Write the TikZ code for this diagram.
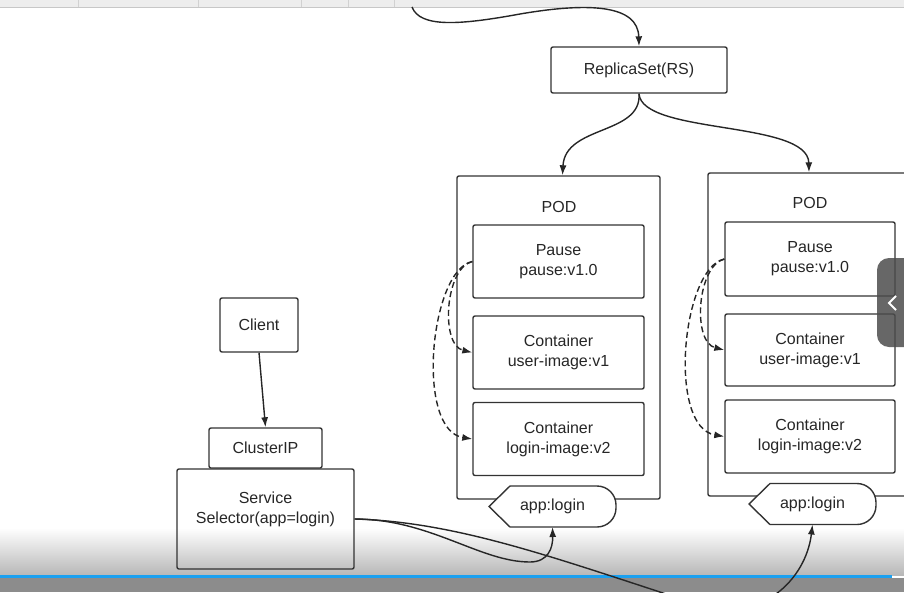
\documentclass[tikz,border=0pt]{standalone}
\usepackage{fontspec}
\setmainfont{Liberation Sans}
\usetikzlibrary{positioning,arrows.meta,calc}
\definecolor{barblue}{HTML}{1AA0F0}
\tikzset{
  applabel/.pic={
    \draw[line width=1.4pt, draw=black!80, fill=white]
      (-63.5,0) -- (-42.5,-20.5) -- (44.5,-20.5)
      .. controls (55,-20.5) and (63.5,-12) .. (63.5,-1.5) -- (63.5,1.5)
      .. controls (63.5,12) and (55,20.5) .. (44.5,20.5) -- (-42.5,20.5) -- cycle;
    \node[txt] (-txt) at (0,0) {app:login};
    \coordinate (-bot) at (0,20.5);
  }
}

\begin{document}
\begin{tikzpicture}[
    x=1pt, y=-1pt,
    font=\fontsize{16}{20}\selectfont,
    box/.style={draw=black!80, rectangle, rounded corners=2pt, line width=1.4pt,
      align=center, inner sep=0pt, text=black!85},
    pod/.style={box, minimum width=203pt, minimum height=323pt},
    ctr/.style={box, minimum width=171pt, minimum height=73pt},
    txt/.style={align=center, inner sep=0pt, text=black!85},
    arrow/.style={-{Latex[length=10pt,width=7pt]}, line width=1.4pt, draw=black!85},
    dasharrow/.style={arrow, dash pattern=on 6pt off 3.5pt}
  ]
  \useasboundingbox (0,0) rectangle (904,592);
  \clip (0,0) rectangle (904,592);

  % player chrome behind the drawing
  \fill[black!7] (0,0) rectangle (904,7);
  \foreach \xx in {78,198,301,348,394} \draw[black!18] (\xx,0) -- (\xx,7);
  \draw[black!22] (0,7) -- (904,7);
  \shade[top color=white, bottom color=black!28] (0,528) rectangle (904,575);
  \fill[black!45] (0,578) rectangle (904,592);
  \fill[barblue] (0,575) rectangle (892,578);

  \coordinate (deploy) at (412,7);
  \node[box, minimum width=176pt, minimum height=46pt] (rs) at (639,70) {ReplicaSet(RS)};

  % left pod
  \node[pod] (podL) at (558.5,337.5) {};
  \node[txt] (podLname) at (559,207) {POD};
  \node[ctr] (pauseL) at (558.5,261.5) {Pause\\pause:v1.0};
  \node[ctr] (userL) at (558.5,352.5) {Container\\user-image:v1};
  \node[ctr] (loginL) at (558.5,439) {Container\\login-image:v2};
  \pic (tagL) at (552.5,506.5) {applabel};

  % right pod
  \node[pod, minimum width=202pt] (podR) at (809,334.5) {};
  \node[txt] (podRname) at (810,203) {POD};
  \node[ctr, minimum width=170pt, minimum height=74pt] (pauseR) at (810,259) {Pause\\pause:v1.0};
  \node[ctr, minimum width=170pt, minimum height=72pt] (userR) at (810,350) {Container\\user-image:v1};
  \node[ctr, minimum width=170pt] (loginR) at (810,436.5) {Container\\login-image:v2};
  \pic (tagR) at (812.5,504) {applabel};

  % service side
  \node[box, minimum width=78pt, minimum height=54pt] (client) at (259,325) {Client};
  \node[box, minimum width=113pt, minimum height=40pt] (cip) at (265.5,448) {ClusterIP};
  \node[box, minimum width=177pt, minimum height=100pt] (svc) at (265.5,519) {};
  \node[txt] (svcname) at (265.5,509) {Service\\Selector(app=login)};

  \draw[arrow] (deploy) .. controls (420,28) and (460,25) .. (520,14)
    .. controls (590,2) and (638,5) .. (rs.north);
  \draw[arrow] (rs.south) .. controls (642,135) and (565,125) .. ([xshift=4pt]podL.north);
  \draw[arrow] (rs.south) .. controls (642,135) and (808,120) .. (podR.north);

  \draw[dasharrow] (pauseL.west) .. controls (445,268) and (440,345) .. (userL.west);
  \draw[dasharrow] (pauseL.west) .. controls (430,270) and (415,430) .. (loginL.west);
  \draw[dasharrow] (pauseR.west) .. controls (697,266) and (692,342) .. (userR.west);
  \draw[dasharrow] (pauseR.west) .. controls (682,268) and (667,427) .. (loginR.west);

  \draw[arrow] (client.south) -- (cip.north);
  \draw[arrow] (svc.east) .. controls (430,519) and (480,562) .. (530,562)
    .. controls (548,562) and (553,548) .. (tagL-bot);
  \draw[arrow] (svc.east) .. controls (460,522) and (560,560) .. (700,605)
    .. controls (760,624) and (806,580) .. (tagR-bot);

  % side tab
  \fill[black!70, fill opacity=.85, rounded corners=12pt] (877,258) rectangle (920,347);
  \draw[white, line width=2pt] (896,296) -- (889,303) -- (896,310);
\end{tikzpicture}
\end{document}
